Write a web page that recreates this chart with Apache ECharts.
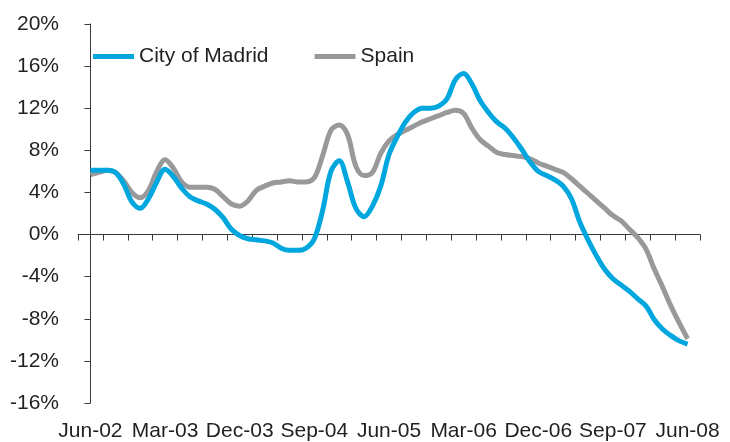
<!DOCTYPE html>
<html>
<head>
<meta charset="utf-8">
<script src="https://cdn.jsdelivr.net/npm/echarts@6/dist/echarts.min.js"></script>
<style>
  html, body { margin: 0; padding: 0; background: #fff; }
  #chart { width: 730px; height: 442px; }
</style>
</head>
<body>
<div id="chart"></div>
<script>
// quarterly slots on the x axis, a label on every third one
const quarters = [
  'Jun-02', 'Sep-02', 'Dec-02', 'Mar-03', 'Jun-03', 'Sep-03', 'Dec-03', 'Mar-04', 'Jun-04',
  'Sep-04', 'Dec-04', 'Mar-05', 'Jun-05', 'Sep-05', 'Dec-05', 'Mar-06', 'Jun-06', 'Sep-06',
  'Dec-06', 'Mar-07', 'Jun-07', 'Sep-07', 'Dec-07', 'Mar-08', 'Jun-08'
];

// monthly values, Jun-02 .. Jun-08 (% y/y)
const madrid = [
  6.1, 6.1, 6.1, 5.9, 4.8, 3.1, 2.5, 3.4, 5.0, 6.2, 5.5, 4.4,
  3.6, 3.2, 2.9, 2.4, 1.6, 0.5, -0.1, -0.4, -0.5, -0.6, -0.8, -1.3,
  -1.5, -1.5, -1.3, -0.4, 2.3, 6.0, 7.0, 5.0, 2.5, 1.7, 2.7, 4.6,
  7.6, 9.3, 10.7, 11.6, 12.0, 12.0, 12.2, 12.9, 14.7, 15.3, 14.3, 12.7,
  11.6, 10.7, 10.1, 9.2, 8.1, 6.9, 6.0, 5.6, 5.2, 4.6, 3.4, 1.2,
  -0.5, -2.0, -3.3, -4.2, -4.8, -5.4, -6.1, -6.8, -8.1, -9.0, -9.6, -10.1,
  -10.4
];

const spain = [
  5.7, 5.9, 6.1, 5.9, 5.1, 4.0, 3.5, 4.2, 6.0, 7.1, 6.3, 5.0,
  4.5, 4.5, 4.5, 4.3, 3.6, 2.9, 2.7, 3.2, 4.2, 4.6, 4.9, 5.0,
  5.1, 5.0, 5.0, 5.4, 7.5, 9.9, 10.4, 9.5, 6.5, 5.6, 5.9, 7.7,
  8.9, 9.5, 9.9, 10.3, 10.7, 11.0, 11.3, 11.6, 11.8, 11.5, 10.1, 9.0,
  8.4, 7.8, 7.6, 7.5, 7.4, 7.2, 6.8, 6.5, 6.2, 5.9, 5.3, 4.6,
  3.9, 3.2, 2.5, 1.8, 1.3, 0.5, -0.3, -1.4, -3.3, -5.0, -6.8, -8.4,
  -9.9
];

const chart = echarts.init(document.getElementById('chart'));
const font = 'Liberation Sans, Arial, Helvetica, sans-serif';
const axisColor = '#3a3a3a';
const textColor = '#231f20';

const toPoints = arr => arr.map((v, i) => [i, v]);

chart.setOption({
  animation: false,
  textStyle: { fontFamily: font },
  grid: { left: 78, right: 30, top: 24, bottom: 38 },
  legend: {
    left: 88,
    top: 41,
    icon: 'rect',
    itemWidth: 41,
    itemHeight: 5,
    itemGap: 46,
    textStyle: { fontSize: 21, color: textColor, fontFamily: font },
    data: ['City of Madrid', 'Spain']
  },
  xAxis: [
    {
      // axis line and ticks sitting on 0%
      type: 'category',
      data: quarters,
      position: 'bottom',
      boundaryGap: true,
      axisLine: { onZero: true, lineStyle: { color: axisColor, width: 1 } },
      axisTick: { show: true, interval: 0, length: 6, lineStyle: { color: axisColor } },
      axisLabel: { show: false },
      splitLine: { show: false }
    },
    {
      // labels along the bottom
      type: 'category',
      data: quarters,
      position: 'bottom',
      boundaryGap: true,
      axisLine: { show: false, onZero: false },
      axisTick: { show: false },
      axisLabel: { interval: 2, margin: 18, fontSize: 21, color: textColor, fontFamily: font },
      splitLine: { show: false }
    },
    {
      // monthly scale for the lines: each quarter slot is 3 months wide
      type: 'value',
      show: false,
      min: -1.5,
      max: 73.5
    }
  ],
  yAxis: {
    type: 'value',
    min: -16,
    max: 20,
    interval: 4,
    axisLine: { show: true, lineStyle: { color: axisColor, width: 1 } },
    axisTick: { show: true, length: 6, lineStyle: { color: axisColor } },
    axisLabel: { formatter: '{value}%', fontSize: 21, margin: 19, color: textColor, fontFamily: font },
    splitLine: { show: false }
  },
  series: [
    {
      name: 'City of Madrid',
      type: 'line',
      xAxisIndex: 2,
      data: toPoints(madrid),
      smooth: 0.35,
      showSymbol: false,
      symbol: 'none',
      color: '#00a6de',
      lineStyle: { width: 5, color: '#00a6de' },
      z: 3
    },
    {
      name: 'Spain',
      type: 'line',
      xAxisIndex: 2,
      data: toPoints(spain),
      smooth: 0.35,
      showSymbol: false,
      symbol: 'none',
      color: '#98999b',
      lineStyle: { width: 5, color: '#98999b' },
      z: 2
    }
  ]
});
</script>
</body>
</html>
